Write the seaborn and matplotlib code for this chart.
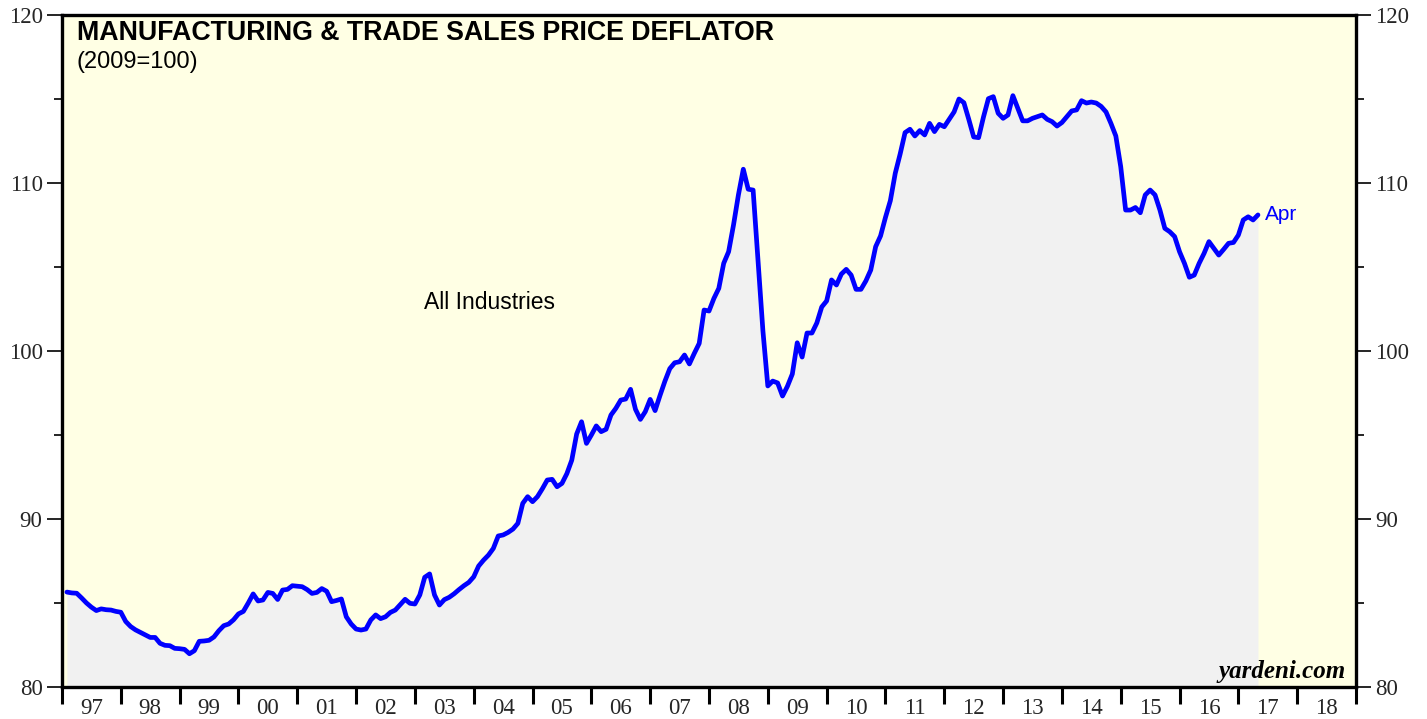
import matplotlib
matplotlib.use("Agg")
import matplotlib.pyplot as plt
import pandas as pd
import seaborn as sns

# Monthly index, Jan 1997 .. Apr 2017 (2009=100)
start_year = 1997
deflator = [
    85.65, 85.60, 85.58, 85.30, 85.00, 84.75, 84.55, 84.65, 84.60, 84.58, 84.50, 84.45,  # 97
    83.90, 83.60, 83.40, 83.25, 83.10, 82.95, 82.95, 82.60, 82.48, 82.46, 82.30, 82.28,  # 98
    82.24, 81.98, 82.16, 82.72, 82.74, 82.78, 82.98, 83.35, 83.65, 83.75, 84.00, 84.35,  # 99
    84.50, 85.00, 85.54, 85.12, 85.18, 85.63, 85.57, 85.21, 85.77, 85.81, 86.03, 86.00,  # 00
    85.97, 85.80, 85.57, 85.63, 85.86, 85.70, 85.08, 85.15, 85.24, 84.18, 83.75, 83.45,  # 01
    83.39, 83.45, 83.99, 84.29, 84.07, 84.18, 84.44, 84.58, 84.90, 85.22, 84.98, 84.94,  # 02
    85.48, 86.53, 86.73, 85.48, 84.88, 85.20, 85.34, 85.55, 85.80, 86.03, 86.23, 86.56,  # 03
    87.20, 87.55, 87.85, 88.25, 88.99, 89.05, 89.20, 89.40, 89.74, 90.93, 91.33, 91.03,  # 04
    91.33, 91.80, 92.32, 92.36, 91.92, 92.12, 92.70, 93.50, 95.06, 95.79, 94.50, 95.00,  # 05
    95.54, 95.20, 95.34, 96.19, 96.59, 97.08, 97.14, 97.72, 96.53, 95.93, 96.39, 97.12,  # 06
    96.45, 97.35, 98.20, 98.95, 99.30, 99.36, 99.76, 99.23, 99.86, 100.45, 102.44, 102.38,  # 07
    103.13, 103.73, 105.22, 105.91, 107.50, 109.29, 110.82, 109.63, 109.58, 105.40, 101.20, 97.92,  # 08
    98.21, 98.10, 97.32, 97.90, 98.63, 100.49, 99.64, 101.07, 101.07, 101.67, 102.62, 102.98,  # 09
    104.23, 103.93, 104.58, 104.86, 104.52, 103.67, 103.67, 104.17, 104.82, 106.21, 106.85, 107.95,  # 10
    108.95, 110.58, 111.73, 113.00, 113.20, 112.80, 113.12, 112.86, 113.55, 113.06, 113.49, 113.35,  # 11
    113.79, 114.23, 115.00, 114.78, 113.79, 112.74, 112.70, 113.93, 115.02, 115.14, 114.15, 113.85,  # 12
    114.05, 115.20, 114.45, 113.70, 113.70, 113.85, 113.95, 114.05, 113.79, 113.65, 113.39, 113.60,  # 13
    113.95, 114.29, 114.35, 114.90, 114.76, 114.82, 114.76, 114.56, 114.23, 113.55, 112.80, 110.97,  # 14
    108.39, 108.39, 108.54, 108.23, 109.29, 109.58, 109.29, 108.39, 107.30, 107.10, 106.81, 105.91,  # 15
    105.22, 104.39, 104.52, 105.22, 105.81, 106.51, 106.11, 105.71, 106.05, 106.41, 106.46, 106.90,  # 16
    107.80, 107.99, 107.80, 108.10,  # 17
]
year_labels = ["97", "98", "99", "00", "01", "02", "03", "04", "05", "06", "07",
               "08", "09", "10", "11", "12", "13", "14", "15", "16", "17", "18"]
y_major = [80, 90, 100, 110, 120]
y_minor = [85, 95, 105, 115]

# plotted at month end
df = pd.DataFrame({
    "t": [start_year + (i + 1) / 12 for i in range(len(deflator))],
    "value": deflator,
})

sns.set_theme(style="white")
plt.rcParams["font.family"] = ["Liberation Sans", "DejaVu Sans"]

W, H = 1427, 719
fig = plt.figure(figsize=(W / 100, H / 100), dpi=100)
ax = fig.add_axes([62 / W, 1 - 687 / H, (1356 - 62) / W, (687 - 15) / H])
ax.set_facecolor("#FFFFE4")

ax.fill_between(df["t"], df["value"], 80, color="#F1F1F1", lw=0, zorder=1)
sns.lineplot(data=df, x="t", y="value", color="#0000FF", lw=3.4, ax=ax, zorder=3)

ax.set_xlim(start_year, start_year + len(year_labels))
ax.set_ylim(80, 120)
ax.set_xlabel("")
ax.set_ylabel("")

# x: ticks at year boundaries, labels centred in between
years = list(range(start_year, start_year + len(year_labels) + 1))
ax.set_xticks(years, labels=[""] * len(years))
ax.set_xticks([y + 0.5 for y in years[:-1]], labels=year_labels, minor=True)
ax.tick_params(axis="x", which="major", direction="out", length=12, width=2.2,
               color="black", bottom=True)
ax.tick_params(axis="x", which="minor", length=0, pad=8, labelsize=16.5, bottom=True)

ax.set_yticks(y_major, labels=[str(v) for v in y_major])
ax.set_yticks(y_minor, minor=True)
ax.tick_params(axis="y", which="both", direction="out", color="black",
               left=True, right=True, labelleft=True, labelright=True)
ax.tick_params(axis="y", which="major", length=11, width=1.2, labelsize=16.5, pad=3)
ax.tick_params(axis="y", which="minor", length=6, width=1.2)

for lab in ax.get_xticklabels(minor=True) + ax.get_yticklabels():
    lab.set_family(["Liberation Serif", "DejaVu Serif"])

for sp in ax.spines.values():
    sp.set_visible(True)
    sp.set_color("black")
    sp.set_linewidth(2.4)

ax.grid(False)

# texts
fig.text(77 / W, 1 - 20 / H, "MANUFACTURING & TRADE SALES PRICE DEFLATOR",
         fontsize=19.3, fontweight="bold", color="black", ha="left", va="top")
fig.text(77 / W, 1 - 51 / H, "(2009=100)", fontsize=17, color="black",
         ha="left", va="top")
ax.text(2004.27, 102.9, "All Industries", fontsize=16.5, color="black",
        ha="center", va="center")
ax.text(df["t"].iloc[-1] + 0.12, df["value"].iloc[-1] + 0.05, "Apr",
        fontsize=15, color="#0000FF", ha="left", va="center")
ax.text(0.992, 0.006, "yardeni.com", transform=ax.transAxes, fontsize=18,
        fontweight="bold", fontstyle="italic", family=["Liberation Serif", "DejaVu Serif"],
        ha="right", va="bottom", color="black")

fig.savefig("out.png", dpi=100)
